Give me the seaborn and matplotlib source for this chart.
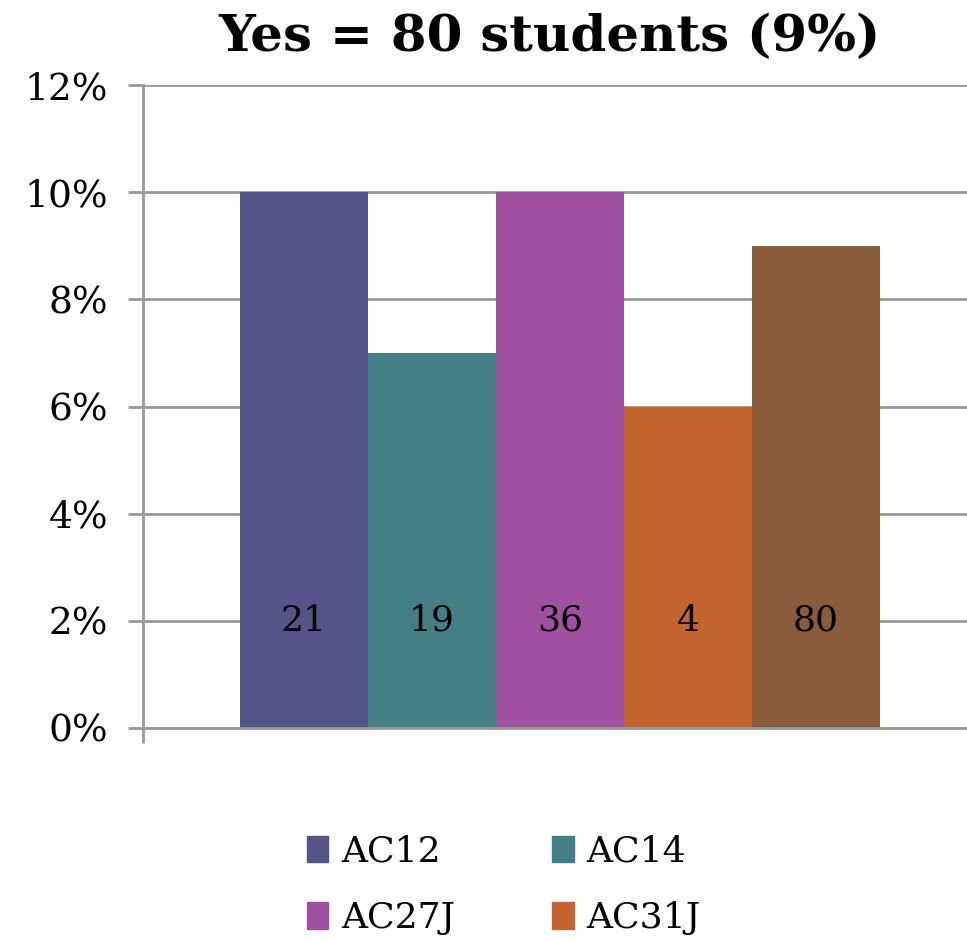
import pandas as pd
import numpy as np
import matplotlib.pyplot as plt
import seaborn as sns

groups = ["AC12", "AC14", "AC27J", "AC31J", "Total"]
percent = [10, 7, 10, 6, 9]
counts = [21, 19, 36, 4, 80]
colors = ["#545488", "#437F84", "#A050A0", "#C4652F", "#8B5C3B"]

df = pd.DataFrame({"cat": ["Yes"] * len(groups), "group": groups,
                   "pct": percent, "n": counts})

sns.set_theme(style="white")
plt.rcParams['font.family'] = ['DejaVu Serif']
plt.rcParams['text.color'] = 'black'

fig = plt.figure(figsize=(9.67, 9.40), dpi=100)
ax = fig.add_axes([143 / 967, 1 - 728 / 940, 824 / 967, (728 - 85) / 940])

sns.barplot(data=df, x="cat", y="pct", hue="group", hue_order=groups,
            palette=colors, width=0.777, saturation=1, ax=ax, legend=False,
            linewidth=0)

ax.set_ylim(0, 12)
ax.set_xlim(-0.506, 0.494)
ax.set_yticks(range(0, 13, 2))
ax.set_yticklabels([f"{v}%" for v in range(0, 13, 2)], fontsize=27,
                   color="black")
ax.set_xticks([-0.506])
ax.set_xticklabels([""])
ax.set_xlabel("")
ax.set_ylabel("")
ax.yaxis.grid(True, color="#999999", linewidth=2)
ax.set_axisbelow(True)
ax.tick_params(axis="both", left=True, bottom=True, length=11, width=2,
               color="#999999", direction="out", pad=14)
for side in ["top", "right"]:
    ax.spines[side].set_visible(False)
for side in ["left", "bottom"]:
    ax.spines[side].set_color("#999999")
    ax.spines[side].set_linewidth(2)

# count labels inside the bars
for cont, n in zip(ax.containers, counts):
    for bar in cont:
        ax.text(bar.get_x() + bar.get_width() / 2, 2, str(n),
                ha="center", va="center", fontsize=26, color="black")

fig.suptitle("Yes = 80 students (9%)", x=550 / 967, y=1 - 38 / 940,
             va="center", fontsize=37, fontweight="bold", color="black")

# legend fills column by column, so order for row-wise reading
order = [0, 2, 1, 3]
handles = [plt.Rectangle((0, 0), 1, 1, color=colors[i]) for i in order]
labels = [groups[i] for i in order]
fig.legend(handles, labels, ncol=2, loc="upper left",
           bbox_to_anchor=(274 / 967, 1 - 802 / 940), frameon=False,
           fontsize=26, handlelength=0.6, handleheight=0.75,
           handletextpad=0.35, columnspacing=2.7, labelspacing=0.9)

plt.savefig("out.png", dpi=100)
